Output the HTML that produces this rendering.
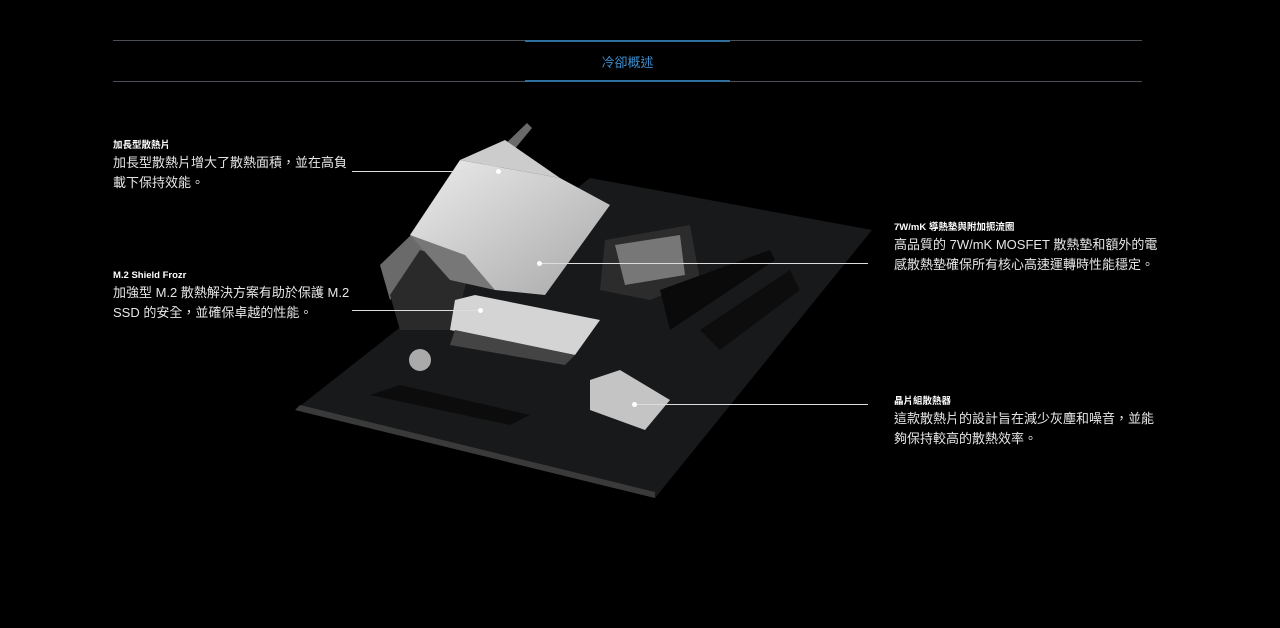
<!DOCTYPE html>
<html><head><meta charset="utf-8"><style>
html,body{margin:0;padding:0;background:#000;width:1280px;height:628px;overflow:hidden;position:relative;font-family:"Liberation Sans","Noto Sans CJK TC",sans-serif;color:#fff}
.hl{position:absolute;left:113px;width:1029px;height:1px;background:#4a4f55}
.tab{position:absolute;left:525px;width:205px;height:2px;background:#2f6f9f}
.t{position:absolute;font-size:13px;line-height:20px;color:#e6e6e6}
.t b{display:block;font-size:9.5px;line-height:14px;color:#fff}
.ln{position:absolute;height:1px;background:#ddd}
.dot{position:absolute;width:5px;height:5px;border-radius:50%;background:#fff}
</style></head><body>
<div class="hl" style="top:40px"></div>
<div class="hl" style="top:81px"></div>
<div class="tab" style="top:40px"></div>
<div class="tab" style="top:80px"></div>
<div style="position:absolute;left:525px;width:205px;top:52px;text-align:center;font-size:13px;color:#3d8fd0">冷卻概述</div>

<svg width="1280" height="628" style="position:absolute;left:0;top:0">
<defs>
<linearGradient id="hs" x1="0" y1="0" x2="1" y2="1"><stop offset="0" stop-color="#ececec"/><stop offset="1" stop-color="#a8a8a8"/></linearGradient>
</defs>
<polygon points="295,410 590,178 872,230 655,498" fill="#18191a"/>
<polygon points="295,410 655,498 655,492 300,405" fill="#3a3a3a"/>
<polygon points="380,265 527,123 532,128 390,300" fill="#6a6a6a"/>
<polygon points="390,295 420,250 470,265 455,330 400,330" fill="#2a2a2a"/>
<polygon points="410,235 460,160 560,178 610,205 545,295 495,290" fill="url(#hs)"/>
<polygon points="460,160 505,140 560,178" fill="#ccc"/>
<polygon points="410,235 465,255 495,290 450,280" fill="#777"/>
<polygon points="605,240 690,225 700,280 650,300 600,290" fill="#2c2c2c"/>
<polygon points="615,245 680,235 685,275 625,285" fill="#777"/>
<polygon points="455,300 475,295 600,320 575,355 450,330" fill="#d4d4d4"/>
<polygon points="455,330 575,355 565,365 450,345" fill="#444"/>
<polygon points="590,380 620,370 670,400 645,430 590,410" fill="#c4c4c4"/>
<polygon points="370,395 400,385 530,415 510,425" fill="#0c0c0c"/>
<polygon points="660,290 770,250 775,260 670,330" fill="#0a0a0a"/>
<polygon points="700,330 790,270 800,290 720,350" fill="#0d0d0d"/>
<circle cx="420" cy="360" r="11" fill="#aaa"/>
</svg>

<div class="t" style="left:113px;top:139px"><b>加長型散熱片</b>加長型散熱片增大了散熱面積，並在高負<br>載下保持效能。</div>
<div class="ln" style="left:352px;top:171px;width:146px"></div><div class="dot" style="left:496px;top:169px"></div>

<div class="t" style="left:113px;top:269px"><b>M.2 Shield Frozr</b>加強型 M.2 散熱解決方案有助於保護 M.2<br>SSD 的安全，並確保卓越的性能。</div>
<div class="ln" style="left:352px;top:310px;width:128px"></div><div class="dot" style="left:478px;top:308px"></div>

<div class="t" style="left:894px;top:221px"><b>7W/mK 導熱墊與附加扼流圈</b>高品質的 7W/mK MOSFET 散熱墊和額外的電<br>感散熱墊確保所有核心高速運轉時性能穩定。</div>
<div class="ln" style="left:540px;top:263px;width:328px"></div><div class="dot" style="left:537px;top:261px"></div>

<div class="t" style="left:894px;top:395px"><b>晶片組散熱器</b>這款散熱片的設計旨在減少灰塵和噪音，並能<br>夠保持較高的散熱效率。</div>
<div class="ln" style="left:635px;top:404px;width:233px"></div><div class="dot" style="left:632px;top:402px"></div>
</body></html>
